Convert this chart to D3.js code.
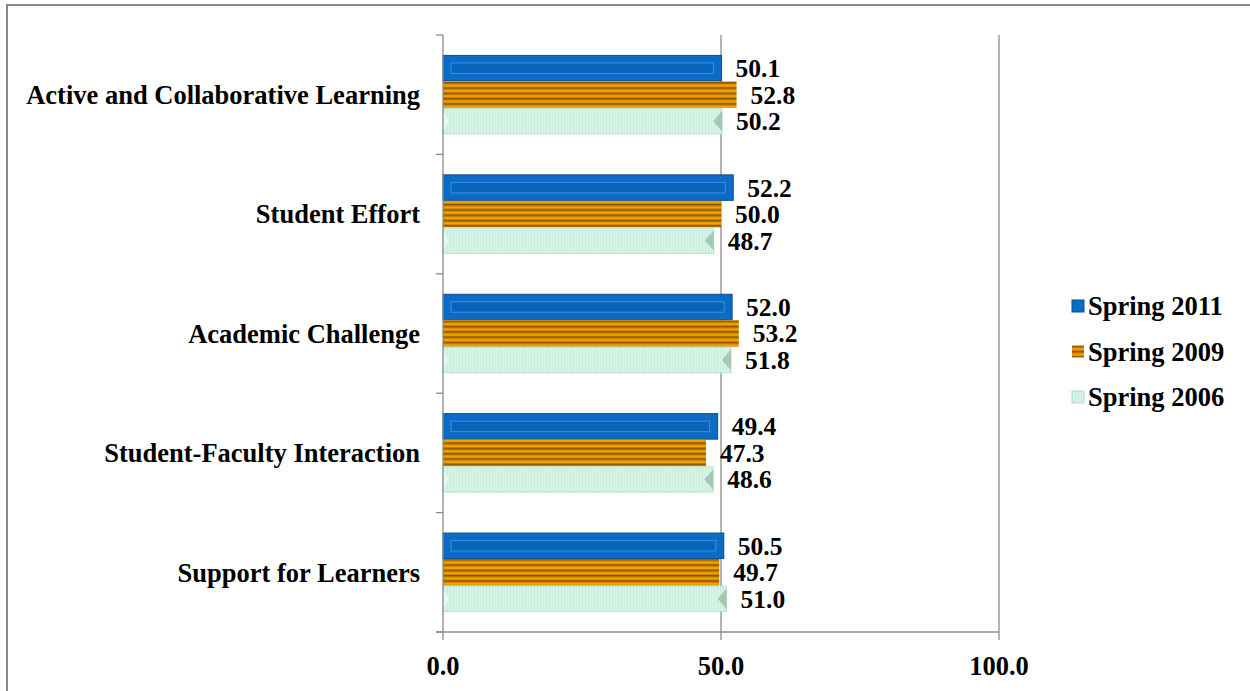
<!DOCTYPE html>
<html>
<head>
<meta charset="utf-8">
<script src="https://cdn.jsdelivr.net/npm/d3@7"></script>
<style>
  body { margin: 0; background: #fff; }
  text { font-family: "Liberation Serif", "Times New Roman", serif; font-weight: bold; fill: #000; }
</style>
</head>
<body>
<div id="chart"></div>
<script>
// Data
const categories = ["Active and Collaborative Learning", "Student Effort", "Academic Challenge",
  "Student-Faculty Interaction", "Support for Learners"];
const seriesNames = ["Spring 2011", "Spring 2009", "Spring 2006"];
const spring2011 = [50.1, 52.2, 52.0, 49.4, 50.5];
const spring2009 = [52.8, 50.0, 53.2, 47.3, 49.7];
const spring2006 = [50.2, 48.7, 51.8, 48.6, 51.0];
const xTicks = [0, 50, 100];

const seriesValues = [spring2011, spring2009, spring2006];

const W = 1250, H = 691;
const fontSize = "26.5px";
const svg = d3.select("#chart").append("svg")
  .attr("width", W).attr("height", H);

const defs = svg.append("defs");

// orange stripes
const stripe = defs.append("pattern")
  .attr("id", "stripes").attr("patternUnits", "userSpaceOnUse")
  .attr("width", 10).attr("height", 5.3);
stripe.append("rect").attr("width", 10).attr("height", 5.3).attr("fill", "#F2A200");
stripe.append("rect").attr("y", 2.6).attr("width", 10).attr("height", 1.6).attr("fill", "#8A5600");
stripe.append("rect").attr("y", 1.9).attr("width", 10).attr("height", 0.7).attr("fill", "#C07800");
stripe.append("rect").attr("y", 4.2).attr("width", 10).attr("height", 0.7).attr("fill", "#C07800");

// green texture
const gtex = defs.append("pattern")
  .attr("id", "greentex").attr("patternUnits", "userSpaceOnUse")
  .attr("width", 3).attr("height", 3);
gtex.append("rect").attr("width", 3).attr("height", 3).attr("fill", "#D5F4E6");
gtex.append("rect").attr("width", 1).attr("height", 3).attr("fill", "#C9ECDB");

// Frame
svg.append("rect")
  .attr("x", 7).attr("y", 5).attr("width", W - 6).attr("height", H)
  .attr("fill", "none").attr("stroke", "#878787").attr("stroke-width", 2);

// Scales
const x = d3.scaleLinear().domain([0, 100]).range([443, 999]);
const y = d3.scaleBand().domain(categories).range([35, 632]);
const barH = 26.5;
const inner = d3.scaleBand().domain(seriesNames)
  .range([0, barH * 3]);
const groupPad = (y.bandwidth() - barH * 3) / 2;

// Gridlines
const g = svg.append("g");
g.selectAll("line.grid")
  .data(xTicks.slice(1))
  .enter().append("line")
  .attr("x1", d => x(d)).attr("x2", d => x(d))
  .attr("y1", 35).attr("y2", 632)
  .attr("stroke", "#8c8c8c").attr("stroke-width", 1.3);

// Bars
const rows = [];
categories.forEach((c, i) => {
  seriesNames.forEach((s, j) => {
    rows.push({ cat: c, series: s, idx: j, value: seriesValues[j][i] });
  });
});

const by = d => y(d.cat) + groupPad + inner(d.series);

rows.forEach(d => {
  const x0 = x(0), x1 = x(d.value), y0 = by(d), h = barH;
  if (d.idx === 0) {
    g.append("rect").attr("x", x0).attr("y", y0 + 0.5).attr("width", x1 - x0).attr("height", h - 1)
      .attr("fill", "#0A6CC6").attr("stroke", "#0B4E8E").attr("stroke-width", 1);
    g.append("rect").attr("x", x0 + 8).attr("y", y0 + 8).attr("width", x1 - x0 - 16).attr("height", h - 16)
      .attr("fill", "#0865BA").attr("stroke", "#3C8FDD").attr("stroke-width", 1);
  } else if (d.idx === 1) {
    g.append("rect").attr("x", x0).attr("y", y0).attr("width", x1 - x0).attr("height", h)
      .attr("fill", "url(#stripes)");
  } else {
    g.append("rect").attr("x", x0).attr("y", y0 + 0.5).attr("width", x1 - x0).attr("height", h - 1)
      .attr("fill", "url(#greentex)").attr("stroke", "#C0E0CF").attr("stroke-width", 1);
    // notch at right end
    g.append("polygon")
      .attr("points", [[x1, y0 + 3], [x1 - 9, y0 + h / 2], [x1, y0 + h - 3]].join(" "))
      .attr("fill", "#A5C8B4");
    g.append("polygon")
      .attr("points", [[x0, y0 + 3], [x0 + 6, y0 + h / 2], [x0, y0 + h - 3]].join(" "))
      .attr("fill", "#E6FAF0");
  }
  g.append("text")
    .attr("x", x1 + 14).attr("y", y0 + h / 2).attr("dy", "0.35em")
    .style("font-size", "25.5px")
    .text(d.value.toFixed(1));
});

// Y axis
g.append("line").attr("x1", x(0)).attr("x2", x(0)).attr("y1", 35).attr("y2", 632)
  .attr("stroke", "#8c8c8c").attr("stroke-width", 1.3);
const yBounds = categories.map(c => y(c)).concat([y.range()[1]]);
g.selectAll("line.ytick").data(yBounds).enter().append("line")
  .attr("x1", x(0) - 7).attr("x2", x(0))
  .attr("y1", d => d).attr("y2", d => d)
  .attr("stroke", "#8c8c8c").attr("stroke-width", 1.3);
g.selectAll("text.cat").data(categories).enter().append("text")
  .attr("x", 420).attr("y", d => y(d) + y.bandwidth() / 2).attr("dy", "0.35em")
  .attr("text-anchor", "end").style("font-size", fontSize)
  .text(d => d);

// X axis
g.append("line").attr("x1", x(0) - 7).attr("x2", x(100)).attr("y1", 632).attr("y2", 632)
  .attr("stroke", "#8c8c8c").attr("stroke-width", 1.3);
g.selectAll("line.xtick").data(xTicks).enter().append("line")
  .attr("x1", d => x(d)).attr("x2", d => x(d))
  .attr("y1", 632).attr("y2", 640)
  .attr("stroke", "#8c8c8c").attr("stroke-width", 1.3);
g.selectAll("text.xt").data(xTicks).enter().append("text")
  .attr("x", d => x(d)).attr("y", 666).attr("dy", "0.35em")
  .attr("text-anchor", "middle").style("font-size", fontSize)
  .text(d => d.toFixed(1));

// Legend
const legend = svg.append("g").attr("transform", "translate(1072,306)");
seriesNames.forEach((s, i) => {
  const ly = i * 45.5;
  const fill = i === 0 ? "#0A6CC6" : i === 1 ? "url(#stripes)" : "url(#greentex)";
  legend.append("rect").attr("x", 0).attr("y", ly - 6).attr("width", 12).attr("height", 12)
    .attr("fill", fill).attr("stroke", i === 0 ? "#0B4E8E" : i === 2 ? "#B5D8C5" : "none");
  legend.append("text").attr("x", 16).attr("y", ly).attr("dy", "0.35em")
    .style("font-size", fontSize).text(s);
});
</script>
</body>
</html>
